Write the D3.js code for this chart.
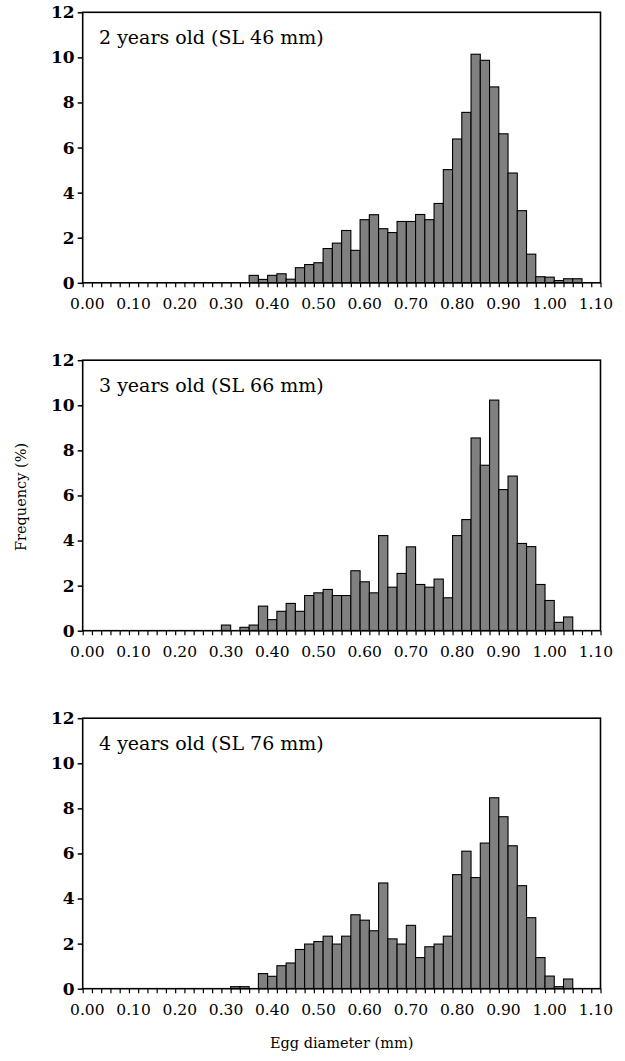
<!DOCTYPE html>
<html>
<head>
<meta charset="utf-8">
<script src="https://cdn.jsdelivr.net/npm/d3@7"></script>
<style>
  body { margin: 0; background: #fff; }
  svg { display: block; font-family: "DejaVu Serif", serif; }
</style>
</head>
<body>
<div id="chart"></div>
<script>
// egg diameter classes (0.02 mm bins), one label per class
var classes = ["0.00","0.02","0.04","0.06","0.08","0.10","0.12","0.14","0.16","0.18",
  "0.20","0.22","0.24","0.26","0.28","0.30","0.32","0.34","0.36","0.38",
  "0.40","0.42","0.44","0.46","0.48","0.50","0.52","0.54","0.56","0.58",
  "0.60","0.62","0.64","0.66","0.68","0.70","0.72","0.74","0.76","0.78",
  "0.80","0.82","0.84","0.86","0.88","0.90","0.92","0.94","0.96","0.98",
  "1.00","1.02","1.04","1.06","1.08","1.10"];

// every 5th class gets a tick label
var labelled = ["0.00","0.10","0.20","0.30","0.40","0.50","0.60","0.70","0.80","0.90","1.00","1.10"];

var yTicks = [0, 2, 4, 6, 8, 10, 12];

var titles = ["2 years old (SL 46 mm)", "3 years old (SL 66 mm)", "4 years old (SL 76 mm)"];

// frequency (%) per class
var freq2 = [0,0,0,0,0,0,0,0,0,0,
  0,0,0,0,0,0,0,0,0.33,0.15,
  0.33,0.40,0.16,0.67,0.81,0.89,1.52,1.76,2.32,1.44,
  2.80,3.02,2.40,2.23,2.72,2.72,3.03,2.80,3.52,5.02,
  6.38,7.56,10.14,9.87,8.69,6.61,4.87,3.20,1.27,0.27,
  0.25,0.10,0.18,0.18,0,0];

var freq3 = [0,0,0,0,0,0,0,0,0,0,
  0,0,0,0,0,0.25,0,0.15,0.25,1.09,
  0.49,0.86,1.21,0.86,1.56,1.68,1.83,1.56,1.56,2.66,
  2.17,1.68,4.22,1.93,2.54,3.72,2.05,1.93,2.29,1.46,
  4.22,4.93,8.55,7.34,10.23,6.26,6.86,3.87,3.73,2.05,
  1.34,0.37,0.61,0,0,0];

var freq4 = [0,0,0,0,0,0,0,0,0,0,
  0,0,0,0,0,0,0.09,0.09,0,0.67,
  0.55,1.02,1.14,1.74,1.98,2.09,2.33,1.98,2.33,3.28,
  3.04,2.57,4.69,2.21,1.98,2.81,1.38,1.86,1.98,2.33,
  5.06,6.10,4.93,6.46,8.47,7.63,6.34,4.57,3.15,1.38,
  0.56,0.09,0.43,0,0,0];

var series = [freq2, freq3, freq4];

var W = 625, H = 1061;
var left = 82.7, right = 600.5, plotH = 270.5;
var panelTop = [12.3, 360.2, 718.2];

var svg = d3.select('#chart').append('svg')
  .attr('width', W)
  .attr('height', H);

var x = d3.scaleBand()
  .domain(classes)
  .range([left, right])
  .paddingInner(0)
  .paddingOuter(0);

// bin edges for the small ticks between classes
var edge = d3.scaleLinear()
  .domain([0, classes.length])
  .range([left, right]);

series.forEach(function (values, p) {
  var top = panelTop[p];
  var y = d3.scaleLinear()
    .domain([0, 12])
    .range([top + plotH, top]);

  var g = svg.append('g');

  g.selectAll('rect.bar')
    .data(values.map(function (v, i) { return { k: classes[i], v: v }; })
      .filter(function (d) { return d.v > 0; }))
    .enter()
    .append('rect')
    .attr('class', 'bar')
    .attr('x', function (d) { return x(d.k); })
    .attr('y', function (d) { return y(d.v); })
    .attr('width', x.bandwidth())
    .attr('height', function (d) { return y(0) - y(d.v); })
    .style('fill', '#808080')
    .style('stroke', '#000')
    .style('stroke-width', 1.1);

  // frame
  g.append('rect')
    .attr('x', left)
    .attr('y', top)
    .attr('width', right - left)
    .attr('height', plotH)
    .style('fill', 'none')
    .style('stroke', '#000')
    .style('stroke-width', 1.6);

  // y axis
  var ya = g.append('g')
    .attr('transform', 'translate(' + left + ',0)')
    .call(d3.axisLeft(y).tickValues(yTicks).tickSize(5).tickPadding(3));
  ya.select('.domain').remove();
  ya.selectAll('line').style('stroke', '#000').style('stroke-width', 1.5);
  ya.selectAll('text')
    .style('font-family', '"DejaVu Serif", serif')
    .style('font-size', '17px')
    .style('font-weight', 'bold')
    .style('fill', '#000');

  // small ticks at class edges
  var xt = g.append('g')
    .attr('transform', 'translate(0,' + (top + plotH) + ')')
    .call(d3.axisBottom(edge).tickValues(d3.range(classes.length + 1)).tickSize(4.5).tickFormat(''));
  xt.select('.domain').remove();
  xt.selectAll('line').style('stroke', '#000').style('stroke-width', 1.2);

  // class labels
  var xl = g.append('g')
    .attr('transform', 'translate(0,' + (top + plotH) + ')')
    .call(d3.axisBottom(x).tickValues(labelled).tickSize(0).tickPadding(15));
  xl.select('.domain').remove();
  xl.selectAll('text')
    .style('font-family', '"DejaVu Serif", serif')
    .style('font-size', '15.5px')
    .style('fill', '#000');

  g.append('text')
    .attr('x', 99)
    .attr('y', top + 32)
    .style('font-size', '19px')
    .style('fill', '#000')
    .text(titles[p]);
});

svg.append('text')
  .attr('x', (left + right) / 2)
  .attr('y', 1048)
  .attr('text-anchor', 'middle')
  .style('font-size', '14.5px')
  .text('Egg diameter (mm)');

svg.append('text')
  .attr('transform', 'translate(26,' + 497 + ') rotate(-90)')
  .attr('text-anchor', 'middle')
  .style('font-size', '14.5px')
  .text('Frequency (%)');
</script>
</body>
</html>
